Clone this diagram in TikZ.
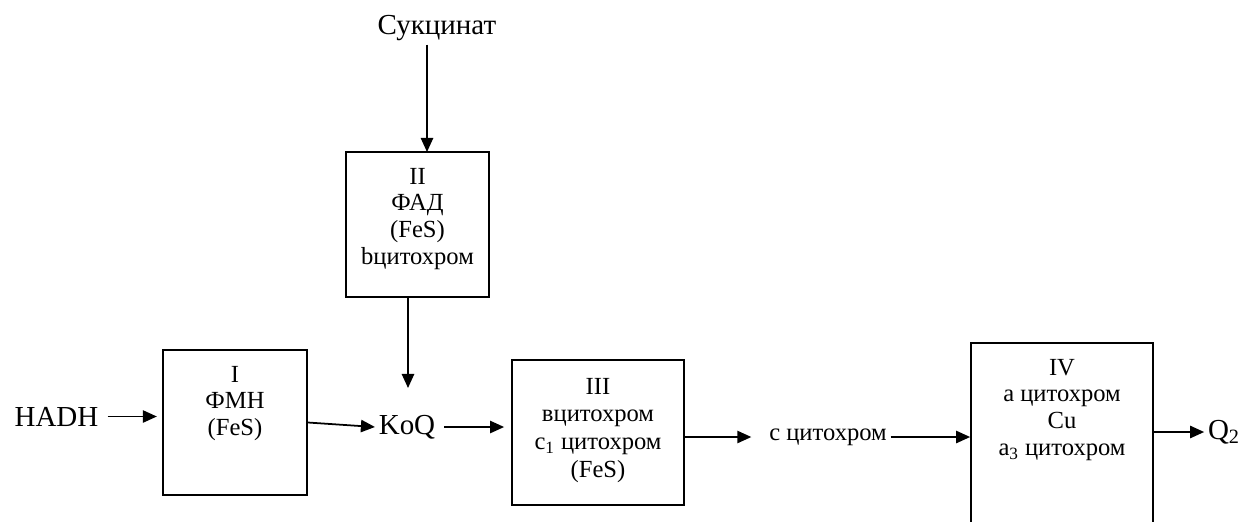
\documentclass[tikz,border=0pt]{standalone}
\usepackage{fontspec}
\setmainfont{Liberation Serif}
\usetikzlibrary{arrows.meta,positioning}

\tikzset{
  block/.style={draw, line width=1pt, inner sep=0pt},
  blocktext/.style={align=center, inner sep=0pt, font=\fontsize{14}{15.3}\selectfont},
  subst/.style={inner sep=2pt, font=\fontsize{16.5}{20}\selectfont},
  cyto/.style={inner sep=2pt, font=\fontsize{14}{15}\selectfont},
  flow/.style={-{Triangle[length=8pt,width=7pt]}, line width=1pt},
}

\begin{document}
\begin{tikzpicture}[x=0.02cm, y=-0.02cm, line join=miter]
		\useasboundingbox (0,0) rectangle (1253,521);
		\clip (0,0) rectangle (1253,521);
		
		% complexes
		\node[block, minimum width=2.88cm, minimum height=2.9cm] (c1) at (235,422.5) {};
		\node[block, minimum width=2.86cm, minimum height=2.9cm] (c2) at (417.5,224.5) {};
		\node[block, minimum width=3.44cm, minimum height=2.9cm] (c3) at (598,432.5) {};
		\node[block, minimum width=3.64cm, minimum height=4cm] (c4) at (1062,443) {};
		
		\node[blocktext, below=0.33cm of c1.north] (t1) {I\\ФМН\\(FeS)};
		\node[blocktext, below=0.33cm of c2.north] (t2) {II\\ФАД\\(FeS)\\bцитохром};
		\node[blocktext, below=0.37cm of c3.north] (t3) {III\\[0.5pt]вцитохром\\[0.5pt]c\textsubscript{1} цитохром\\[0.5pt](FeS)};
		\node[blocktext, below=0.33cm of c4.north] (t4) {IV\\а цитохром\\Cu\\а\textsubscript{3} цитохром};
		
		% substrates
		\node[subst] (succ) at (437,28) {Сукцинат};
		\node[subst] (hadh) at (56.5,416.5) {HADH};
		\node[subst] (koq) at (407,427) {KoQ};
		\node[cyto] (cyt) at (828,437) {c цитохром};
		\node[subst] (q2) at (1224,432) {Q\textsubscript{2}};
		
		\coordinate (c2in) at (427,152);
		\coordinate (koqin) at (408,388);
		
		% electron flow
		\draw[flow] (succ.south -| c2in) -- (c2in);
		\draw[flow] (c2.south -| koqin) -- (koqin);
		\draw[flow, shorten <=3pt, shorten >=3pt] (hadh.east) -- (hadh.east -| c1.west);
		\draw[flow] (c1.east) -- (koq.west);
		\draw[flow, shorten <=3pt, shorten >=4pt] (koq.east) -- (koq.east -| c3.west);
		\draw[flow, shorten >=8pt] (c3.east |- cyt.west) -- (cyt.west);
		\draw[flow] (cyt.east) -- (cyt.east -| c4.west);
		\draw[flow] (c4.east |- q2.west) -- (q2.west);
\end{tikzpicture}
\end{document}
